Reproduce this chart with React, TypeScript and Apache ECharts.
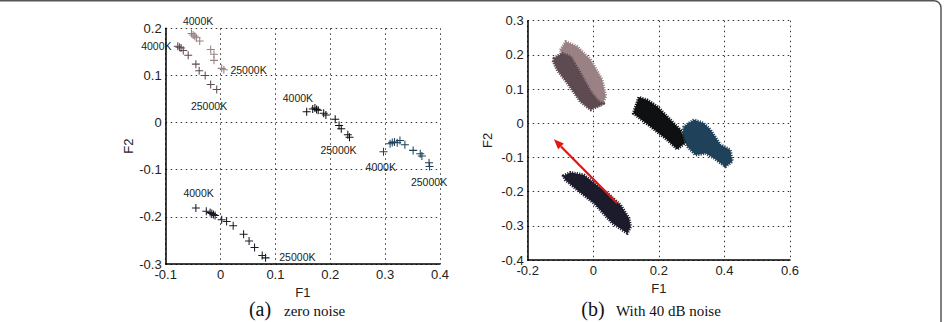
import React, { useEffect, useRef } from "react";
import * as echarts from "echarts";

// ---------- (a) zero noise: measured points [F1, F2] ----------
const aLightMauve: number[][] = [
  [-0.053, 0.189], [-0.050, 0.186], [-0.047, 0.183], [-0.044, 0.180], [-0.038, 0.173],
  [-0.018, 0.155], [-0.012, 0.145], [-0.012, 0.132], [0.002, 0.115], [0.006, 0.112],
];
const aDarkMauve: number[][] = [
  [-0.078, 0.162], [-0.075, 0.160], [-0.072, 0.158], [-0.068, 0.153], [-0.059, 0.143],
  [-0.045, 0.124], [-0.039, 0.110], [-0.028, 0.100], [-0.018, 0.081], [-0.007, 0.070],
];
const aBlack: number[][] = [
  [0.157, 0.023], [0.168, 0.029], [0.172, 0.031], [0.175, 0.028], [0.178, 0.026],
  [0.188, 0.020], [0.192, 0.016], [0.209, 0.007], [0.216, -0.006], [0.220, -0.013],
  [0.232, -0.026], [0.235, -0.031],
];
const aBlue: number[][] = [
  [0.297, -0.062], [0.309, -0.045], [0.313, -0.042], [0.317, -0.041], [0.322, -0.043],
  [0.327, -0.038], [0.336, -0.047], [0.351, -0.059], [0.364, -0.066], [0.367, -0.071],
  [0.380, -0.085], [0.381, -0.093],
];
const aNavy: number[][] = [
  [-0.045, -0.181], [-0.026, -0.188], [-0.019, -0.191], [-0.016, -0.193], [-0.013, -0.195],
  [-0.010, -0.197], [0.002, -0.206], [0.011, -0.210], [0.023, -0.219], [0.042, -0.237],
  [0.052, -0.251], [0.062, -0.265], [0.076, -0.282], [0.082, -0.287],
];

// temperature annotations in (a)
const annotText = ["4000K", "25000K", "4000K", "25000K", "4000K", "25000K", "4000K", "25000K", "4000K", "25000K"];
const annotX = [-0.041, 0.051, -0.117, -0.021, 0.141, 0.215, 0.292, 0.380, -0.040, 0.140];
const annotY = [0.216, 0.111, 0.163, 0.035, 0.053, -0.059, -0.095, -0.125, -0.150, -0.286];

// ---------- (b) 40 dB noise: cloud outlines [F1, F2] ----------
const bLightMauveCloud: number[][] = [
  [-0.100, 0.214], [-0.084, 0.239], [-0.049, 0.224], [-0.008, 0.185], [0.027, 0.127],
  [0.038, 0.078], [0.027, 0.054], [0.002, 0.049], [-0.030, 0.100], [-0.080, 0.170],
];
const bDarkMauveCloud: number[][] = [
  [-0.120, 0.190], [-0.095, 0.205], [-0.069, 0.195], [-0.039, 0.146], [-0.008, 0.092],
  [0.017, 0.063], [0.032, 0.058], [-0.008, 0.039], [-0.039, 0.063], [-0.079, 0.117],
  [-0.110, 0.156], [-0.122, 0.180],
];
const bBlueCloud: number[][] = [
  [0.307, 0.010], [0.276, -0.010], [0.271, -0.039], [0.287, -0.068], [0.312, -0.093],
  [0.343, -0.088], [0.368, -0.102], [0.403, -0.127], [0.424, -0.112], [0.418, -0.078],
  [0.388, -0.063], [0.358, -0.020], [0.337, 0.000],
];
const bBlackCloud: number[][] = [
  [0.139, 0.076], [0.122, 0.029], [0.175, -0.010], [0.226, -0.049], [0.256, -0.076],
  [0.279, -0.058], [0.266, -0.020], [0.226, 0.019], [0.195, 0.049], [0.165, 0.068],
];
const bNavyCloud: number[][] = [
  [-0.092, -0.154], [-0.069, -0.144], [-0.029, -0.151], [0.043, -0.205], [0.083, -0.239],
  [0.109, -0.278], [0.114, -0.302], [0.104, -0.322], [0.058, -0.292], [0.002, -0.234],
  [-0.049, -0.195], [-0.085, -0.166],
];
const bArrow: number[][] = [[0.073, -0.234], [-0.120, -0.047]];

const COLORS = {
  lightMauve: "#9a8184",
  darkMauve: "#5e4a51",
  black: "#0e1012",
  blue: "#1f425a",
  navy: "#1b1b2b",
  arrow: "#e8120f",
};

const PLUS =
  "path://M-1 -0.13 L1 -0.13 L1 0.13 L-1 0.13 Z M-0.13 -1 L0.13 -1 L0.13 1 L-0.13 1 Z";

const SANS = "'Liberation Sans', Arial, sans-serif";
const SERIF = "'Liberation Serif', 'Times New Roman', serif";

function axisCommon() {
  return {
    type: "value" as const,
    axisLine: { show: true, onZero: false, lineStyle: { color: "#000", width: 1.5 } },
    axisTick: { show: false },
    axisLabel: { color: "#222", fontSize: 13, fontFamily: SANS, margin: 4 },
    splitLine: { show: true, lineStyle: { color: "#333", width: 1, type: [1.5, 3.5] } },
    nameTextStyle: { color: "#222", fontSize: 13, fontFamily: SANS },
  };
}

function scatterA(data: number[][], color: string) {
  return {
    type: "scatter",
    xAxisIndex: 0,
    yAxisIndex: 0,
    data,
    symbol: PLUS,
    symbolSize: 8,
    itemStyle: { color, opacity: 1 },
    clip: false,
  };
}

function cloud(verts: number[][], color: string) {
  return {
    type: "custom",
    xAxisIndex: 1,
    yAxisIndex: 1,
    data: verts,
    renderItem: (params: any, api: any) => {
      if (params.dataIndex !== 0) return null;
      const pts = verts.map((v) => api.coord(v));
      return {
        type: "polygon",
        shape: { points: pts },
        style: { fill: color, stroke: color, lineWidth: 3, lineDash: [1.2, 1.2], lineJoin: "round" },
      };
    },
  };
}

export default function App() {
  const ref = useRef<HTMLDivElement>(null);
  useEffect(() => {
    if (!ref.current) return;
    const chart = echarts.init(ref.current, undefined, { renderer: "svg" });
    const option: any = {
      animation: false,
      backgroundColor: "#fff",
      grid: [
        { left: 165.7, top: 28.3, width: 274.3, height: 235.7 },
        { left: 527.7, top: 20.7, width: 262.3, height: 239.3 },
      ],
      xAxis: [
        { ...axisCommon(), gridIndex: 0, min: -0.1, max: 0.4, interval: 0.1, name: "F1", nameLocation: "middle", nameGap: 20 },
        { ...axisCommon(), gridIndex: 1, min: -0.2, max: 0.6, interval: 0.2, name: "F1", nameLocation: "middle", nameGap: 20 },
      ],
      yAxis: [
        { ...axisCommon(), gridIndex: 0, min: -0.3, max: 0.2, interval: 0.1, name: "F2", nameLocation: "middle", nameGap: 30 },
        { ...axisCommon(), gridIndex: 1, min: -0.4, max: 0.3, interval: 0.1, name: "F2", nameLocation: "middle", nameGap: 34 },
      ],
      series: [
        scatterA(aLightMauve, COLORS.lightMauve),
        scatterA(aDarkMauve, COLORS.darkMauve),
        scatterA(aBlack, COLORS.black),
        scatterA(aBlue, COLORS.blue),
        scatterA(aNavy, COLORS.navy),
        {
          type: "custom",
          xAxisIndex: 0,
          yAxisIndex: 0,
          clip: false,
          data: annotText.map((t, i) => [annotX[i], annotY[i]]),
          renderItem: (params: any, api: any) => {
            const p = api.coord([api.value(0), api.value(1)]);
            return {
              type: "text",
              x: p[0],
              y: p[1],
              style: {
                text: annotText[params.dataIndex],
                fill: "#222",
                font: `10.5px ${SANS}`,
                align: "center",
                verticalAlign: "middle",
              },
            };
          },
        },
        cloud(bLightMauveCloud, COLORS.lightMauve),
        cloud(bDarkMauveCloud, COLORS.darkMauve),
        cloud(bBlueCloud, COLORS.blue),
        cloud(bBlackCloud, COLORS.black),
        cloud(bNavyCloud, COLORS.navy),
        {
          type: "custom",
          xAxisIndex: 1,
          yAxisIndex: 1,
          data: bArrow,
          renderItem: (params: any, api: any) => {
            if (params.dataIndex !== 0) return null;
            const a = api.coord(bArrow[0]);
            const b = api.coord(bArrow[1]);
            const dx = b[0] - a[0];
            const dy = b[1] - a[1];
            const len = Math.sqrt(dx * dx + dy * dy);
            const ux = dx / len;
            const uy = dy / len;
            const hl = 10;
            const hw = 4;
            const bx = b[0] - ux * hl;
            const by = b[1] - uy * hl;
            return {
              type: "group",
              children: [
                {
                  type: "line",
                  shape: { x1: a[0], y1: a[1], x2: bx, y2: by },
                  style: { stroke: COLORS.arrow, lineWidth: 2.2 },
                },
                {
                  type: "polygon",
                  shape: {
                    points: [
                      [b[0], b[1]],
                      [bx - uy * hw, by + ux * hw],
                      [bx + uy * hw, by - ux * hw],
                    ],
                  },
                  style: { fill: COLORS.arrow },
                },
              ],
            };
          },
        },
      ],
      graphic: [
        {
          type: "rect",
          shape: { x: -20, y: 0.75, width: 961, height: 400, r: 7 },
          style: { fill: "none", stroke: "#555", lineWidth: 1.5 },
          silent: true,
        },
        {
          type: "text",
          x: 260,
          y: 309,
          style: { text: "(a)", font: `20px ${SERIF}`, fill: "#111", align: "center", verticalAlign: "middle" },
        },
        {
          type: "text",
          x: 284,
          y: 311,
          style: { text: "zero noise", font: `15px ${SERIF}`, fill: "#111", align: "left", verticalAlign: "middle" },
        },
        {
          type: "text",
          x: 593,
          y: 309,
          style: { text: "(b)", font: `20px ${SERIF}`, fill: "#111", align: "center", verticalAlign: "middle" },
        },
        {
          type: "text",
          x: 616,
          y: 311,
          style: { text: "With 40 dB noise", font: `15px ${SERIF}`, fill: "#111", align: "left", verticalAlign: "middle" },
        },
      ],
    };
    chart.setOption(option);
    return () => chart.dispose();
  }, []);
  return (
    <div
      ref={ref}
      style={{ position: "fixed", left: 0, top: 0, width: 945, height: 322, background: "#fff" }}
    />
  );
}
